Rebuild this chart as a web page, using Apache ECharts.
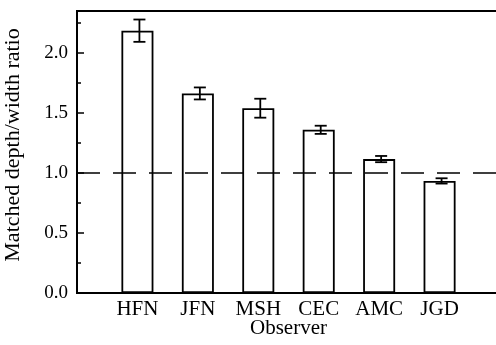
<!DOCTYPE html>
<html>
<head>
<meta charset="utf-8">
<script src="https://cdn.jsdelivr.net/npm/echarts@6/dist/echarts.min.js"></script>
<style>html,body{margin:0;padding:0;background:#fff}#c{width:496px;height:345px}</style>
</head>
<body>
<div id="c"></div>
<script>
var categories = ['HFN', 'JFN', 'MSH', 'CEC', 'AMC', 'JGD'];
var ratios = [2.186, 1.663, 1.540, 1.360, 1.116, 0.934];
var errors = [0.093, 0.050, 0.079, 0.034, 0.026, 0.022];
var yTickLabels = ['0.0', '0.5', '1.0', '1.5', '2.0'];
var referenceLevel = 1.0;

var FONT = 'Liberation Serif';
var barData = ratios.map(function (v, i) { return [i + 1, v]; });
var errData = ratios.map(function (v, i) { return [i + 1, v - errors[i], v + errors[i]]; });

var chart = echarts.init(document.getElementById('c'), null, {renderer: 'canvas'});
chart.setOption({
  animation: false,
  backgroundColor: '#fff',
  grid: {left: 77, top: 11, width: 423, bottom: 52, show: true, borderColor: '#000', borderWidth: 2,
         containLabel: false, outerBoundsMode: 'none'},
  xAxis: [{
    type: 'value', min: 0, max: 7, interval: 1,
    name: 'Observer', nameLocation: 'middle', nameGap: 25, nameMoveOverlap: false,
    nameTextStyle: {fontFamily: FONT, fontSize: 21, color: '#000'},
    axisLine: {show: true, lineStyle: {color: '#000', width: 2}},
    axisTick: {show: false},
    splitLine: {show: false},
    axisLabel: {
      fontFamily: FONT, fontSize: 21, color: '#000', margin: 6,
      formatter: function (v) { var i = Math.round(v) - 1; return (i >= 0 && i < categories.length && Math.abs(v - i - 1) < 1e-6) ? categories[i] : ''; }
    }
  }],
  yAxis: [{
    type: 'value', min: 0, max: 2.35, interval: 0.5,
    name: 'Matched depth/width ratio', nameLocation: 'middle', nameGap: 53, nameMoveOverlap: false,
    nameTextStyle: {fontFamily: FONT, fontSize: 22, color: '#000', padding: [0, 0, 0, 14]},
    axisLine: {show: true, lineStyle: {color: '#000', width: 2}},
    axisTick: {show: true, inside: true, length: 7, lineStyle: {color: '#000', width: 1.5}},
    splitLine: {show: false},
    axisLabel: {
      fontFamily: FONT, fontSize: 19, color: '#000', margin: 9, showMaxLabel: false,
      formatter: function (v) { var k = Math.round(v / 0.5); return (Math.abs(v - k * 0.5) < 1e-6 && k < yTickLabels.length) ? yTickLabels[k] : ''; }
    }
  }, {
    type: 'value', min: 0, max: 2.35, interval: 0.25, position: 'left',
    axisLine: {show: false},
    axisTick: {show: true, inside: true, length: 4, lineStyle: {color: '#000', width: 1.5}},
    axisLabel: {show: false},
    splitLine: {show: false}
  }],
  series: [{
    type: 'bar',
    data: barData,
    barWidth: 32,
    itemStyle: {color: '#fff', borderColor: '#000', borderWidth: 1.8},
    z: 2,
    markLine: {
      silent: true, symbol: 'none', label: {show: false},
      lineStyle: {color: '#000', width: 1.6, type: [23, 13]},
      data: [{yAxis: referenceLevel}]
    }
  }, {
    type: 'custom',
    data: errData,
    z: 5,
    renderItem: function (params, api) {
      var x = api.value(0);
      var lo = api.coord([x, api.value(1)]);
      var hi = api.coord([x, api.value(2)]);
      var cx = lo[0] + 2, hw = 6;
      var st = {stroke: '#000', lineWidth: 1.8};
      return {type: 'group', children: [
        {type: 'line', shape: {x1: cx, y1: lo[1], x2: cx, y2: hi[1]}, style: st},
        {type: 'line', shape: {x1: cx - hw, y1: lo[1], x2: cx + hw, y2: lo[1]}, style: st},
        {type: 'line', shape: {x1: cx - hw, y1: hi[1], x2: cx + hw, y2: hi[1]}, style: st}
      ]};
    }
  }]
});
</script>
</body>
</html>
